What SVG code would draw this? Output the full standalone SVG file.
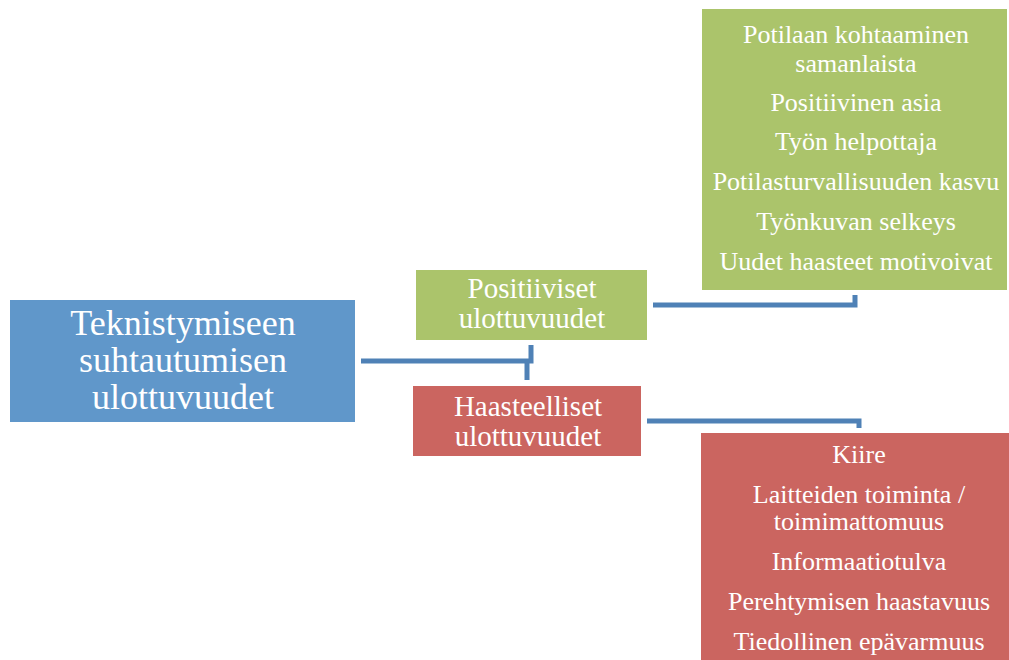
<svg xmlns="http://www.w3.org/2000/svg" width="1009" height="660" viewBox="0 0 1009 660">
<style>
text{font-family:"Liberation Serif","Times New Roman",serif;fill:#ffffff;text-anchor:middle}
.t36{font-size:36px}
.t29{font-size:29px}
.t26{font-size:26px}
.conn{fill:none;stroke:#4f81b6;stroke-width:5;stroke-linejoin:miter}
.green{fill:#abc46b}
.red{fill:#cb6560}
.blue{fill:#6097ca}
</style>
<rect width="1009" height="660" fill="#ffffff"/>
<g id="connectors">
<path class="conn" d="M361 361 H531 V345"/>
<path class="conn" d="M527 361 V380"/>
<path class="conn" d="M653 305 H855 V295"/>
<path class="conn" d="M647 421 H859 V428"/>
</g>
<g id="root">
<rect class="blue" x="10" y="300" width="345" height="122"/>
<text class="t36" x="183" y="335">Teknistymiseen</text>
<text class="t36" x="183" y="372">suhtautumisen</text>
<text class="t36" x="183" y="409">ulottuvuudet</text>
</g>
<g id="positive">
<rect class="green" x="416" y="270" width="231" height="70"/>
<text class="t29" x="532" y="298">Positiiviset</text>
<text class="t29" x="532" y="328">ulottuvuudet</text>
</g>
<g id="challenging">
<rect class="red" x="413" y="386" width="228" height="70"/>
<text class="t29" x="528" y="416">Haasteelliset</text>
<text class="t29" x="528" y="446">ulottuvuudet</text>
</g>
<g id="positive-details">
<rect class="green" x="702" y="9" width="305" height="281"/>
<text class="t26" x="856" y="43">Potilaan kohtaaminen</text>
<text class="t26" x="856" y="72">samanlaista</text>
<text class="t26" x="856" y="111">Positiivinen asia</text>
<text class="t26" x="856" y="150">Työn helpottaja</text>
<text class="t26" x="856" y="190">Potilasturvallisuuden kasvu</text>
<text class="t26" x="856" y="230">Työnkuvan selkeys</text>
<text class="t26" x="856" y="270">Uudet haasteet motivoivat</text>
</g>
<g id="challenging-details">
<rect class="red" x="701" y="433" width="308" height="227"/>
<text class="t26" x="859" y="463">Kiire</text>
<text class="t26" x="859" y="503">Laitteiden toiminta /</text>
<text class="t26" x="859" y="530">toimimattomuus</text>
<text class="t26" x="859" y="570">Informaatiotulva</text>
<text class="t26" x="859" y="610">Perehtymisen haastavuus</text>
<text class="t26" x="859" y="650">Tiedollinen epävarmuus</text>
</g>
</svg>
